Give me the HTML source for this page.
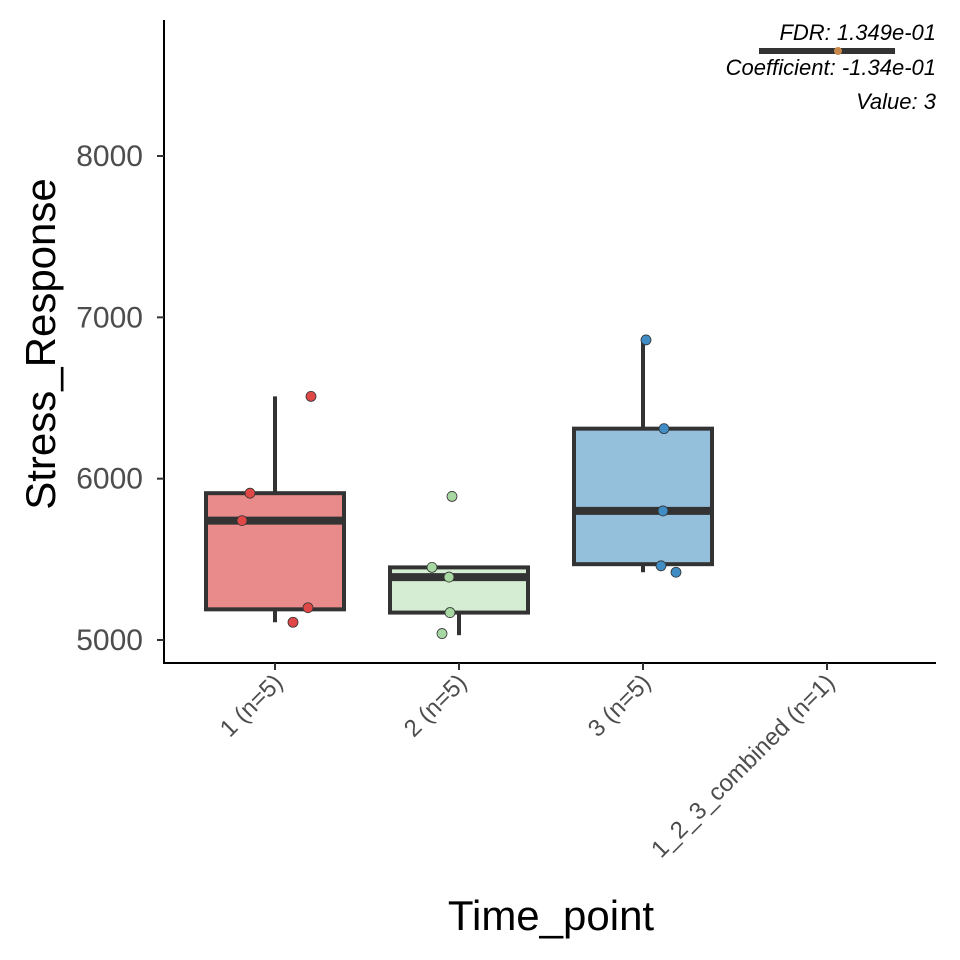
<!DOCTYPE html>
<html><head><meta charset="utf-8"><style>body{margin:0;background:#fff}svg{display:block;font-family:"Liberation Sans",sans-serif}</style></head>
<body>
<svg id="chart" width="960" height="960">
<g id="ax"></g><g id="marks"></g>
<g font-style="italic" font-size="22" text-anchor="end" fill="#000">
<text x="936" y="40">FDR: 1.349e-01</text>
<line x1="759" x2="895" y1="51" y2="51" stroke="#333" stroke-width="6"/>
<circle cx="838" cy="51" r="4" fill="#c8884c"/>
<text x="936" y="75">Coefficient: -1.34e-01</text>
<text x="936" y="109">Value: 3</text>
</g>
</svg>
<script>
const categories=["1 (n=5)","2 (n=5)","3 (n=5)","1_2_3_combined (n=1)"];
const q1=[5190,5170,5470,null];
const med=[5740,5390,5800,null];
const q3=[5910,5450,6310,null];
const wlo=[5110,5030,5420,null];
const whi=[6510,5450,6860,null];
const pts=[[5910,5740,5200,5110,6510],[5890,5450,5390,5170,5040],[6860,6310,5800,5460,5420],[]];
const jit=[[-25,-33,33,18,36],[-7,-27,-10,-9,-17],[3,21,20,18,33],[]];
const yTicks=[5000,6000,7000,8000];
const fills=["#e98b8b","#d5eed3","#94c0dc"];
const ptc=["#e04848","#a8d8a2","#3f8dc4"];
const NS="http://www.w3.org/2000/svg";
const y=v=>640-(v-5000)*0.16133;
const x=i=>275+i*184;
function mk(t,a,p){const e=document.createElementNS(NS,t);for(const k in a)e.setAttribute(k,a[k]);p.appendChild(e);return e;}
const ax=document.getElementById('ax'),mg=document.getElementById('marks');
let l=mk('line',{x1:164,x2:164,y1:20,y2:664,stroke:'#000','stroke-width':2},ax);


l=mk('line',{x1:163,x2:936,y1:663,y2:663,stroke:'#000','stroke-width':2},ax);


yTicks.forEach(v=>{
 mk('line',{x1:157,x2:164,y1:y(v),y2:y(v),stroke:'#333','stroke-width':2},ax);
 const t=mk('text',{x:143,y:y(v)+10,'text-anchor':'end','font-size':30,fill:'#4d4d4d'},ax);t.textContent=v;
 
 
});
categories.forEach((c,i)=>{
 mk('line',{x1:x(i),x2:x(i),y1:663,y2:670,stroke:'#333','stroke-width':2},ax);
 const t=mk('text',{x:0,y:0,'text-anchor':'end','font-size':24,fill:'#4d4d4d',transform:`translate(${x(i)+9},${684}) rotate(-45)`},ax);t.textContent=c;
 
 
});
let t=mk('text',{x:551,y:930,'text-anchor':'middle','font-size':42,fill:'#000'},ax);t.textContent='Time_point';


t=mk('text',{x:0,y:0,'text-anchor':'middle','font-size':42,fill:'#000',transform:'translate(55,344) rotate(-90)'},ax);t.textContent='Stress_Response';


categories.forEach((c,i)=>{
 if(q1[i]==null)return;
 const g=mk('g',{},mg);
 
 
 const cx=x(i),w=69;
 mk('line',{x1:cx,x2:cx,y1:y(q3[i]),y2:y(whi[i]),stroke:'#333','stroke-width':4},g);
 mk('line',{x1:cx,x2:cx,y1:y(q1[i]),y2:y(wlo[i]),stroke:'#333','stroke-width':4},g);
 mk('rect',{x:cx-w,y:y(q3[i]),width:2*w,height:y(q1[i])-y(q3[i]),fill:fills[i],stroke:'#333','stroke-width':4},g);
 mk('line',{x1:cx-w,x2:cx+w,y1:y(med[i]),y2:y(med[i]),stroke:'#333','stroke-width':8},g);
 pts[i].forEach((v,j)=>{
  const p=mk('circle',{cx:cx+jit[i][j],cy:y(v),r:5,fill:ptc[i],stroke:'#333','stroke-width':0.8},g);
  
  
 });
});
</script>
</body></html>
